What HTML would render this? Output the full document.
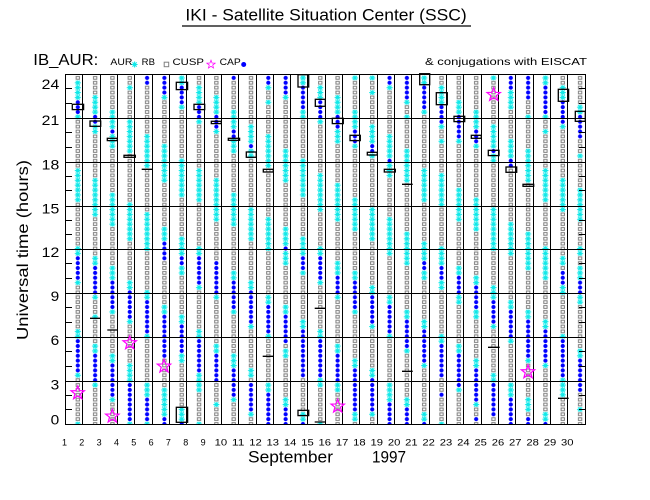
<!DOCTYPE html>
<html><head><meta charset="utf-8"><style>html,body{margin:0;padding:0;background:#fff;}svg{display:block;}</style></head>
<body>
<svg width="650" height="500" viewBox="0 0 650 500" xmlns="http://www.w3.org/2000/svg" font-family="'Liberation Sans', sans-serif">
<defs>
<pattern id="pg" patternUnits="userSpaceOnUse" x="69.14" y="421.5625" width="17.32" height="4.875">
<rect x="7.01" y="1.0875" width="3.3" height="2.7" fill="#fff" stroke="#808080" stroke-width="1"/>
</pattern>
<pattern id="pcy" patternUnits="userSpaceOnUse" x="69.14" y="421.5625" width="17.32" height="4.875">
<path d="M5.66 2.44H11.66M8.66 0V4.875M6.6 0.4L10.7 4.5M10.7 0.4L6.6 4.5" stroke="#10e8e8" stroke-width="1.1" fill="none"/>
</pattern>
<pattern id="pbl" patternUnits="userSpaceOnUse" x="69.14" y="421.5625" width="17.32" height="4.875">
<circle cx="8.66" cy="2.4375" r="2.1" fill="#0000ff"/>
</pattern>
<path id="pC" transform="translate(0,424) scale(1,-4.875) translate(0,-0.5)" d="M74.3 67h7V71h-7zM74.3 63h7V64h-7zM74.3 46h7V53h-7zM74.3 35h7V37h-7zM74.3 29h7V30h-7zM74.3 18h7V20h-7zM74.3 10h7V11h-7zM74.3 0h7V1h-7zM91.62 64h7V68h-7zM91.62 60h7V62h-7zM91.62 43h7V51h-7zM91.62 33h7V35h-7zM91.62 26h7V27h-7zM91.62 22h7V23h-7zM91.62 15h7V17h-7zM91.62 8h7V9h-7zM108.94 61h7V65h-7zM108.94 57h7V60h-7zM108.94 41h7V48h-7zM108.94 30h7V33h-7zM108.94 23h7V24h-7zM108.94 13h7V15h-7zM108.94 5h7V6h-7zM126.26 69h7V70h-7zM126.26 56h7V63h-7zM126.26 38h7V46h-7zM126.26 28h7V30h-7zM126.26 21h7V22h-7zM126.26 9h7V13h-7zM126.26 0h7V1h-7zM143.58 53h7V60h-7zM143.58 36h7V44h-7zM143.58 26h7V28h-7zM143.58 18h7V19h-7zM143.58 6h7V9h-7zM143.58 0h7V1h-7zM160.9 67h7V68h-7zM160.9 50h7V58h-7zM160.9 38h7V41h-7zM160.9 23h7V25h-7zM160.9 2h7V8h-7zM178.22 70h7V72h-7zM178.22 65h7V66h-7zM178.22 47h7V55h-7zM178.22 35h7V39h-7zM178.22 31h7V33h-7zM178.22 21h7V23h-7zM178.22 13h7V15h-7zM178.22 1h7V4h-7zM195.54 66h7V70h-7zM195.54 62h7V63h-7zM195.54 46h7V53h-7zM195.54 35h7V37h-7zM195.54 28h7V29h-7zM195.54 18h7V20h-7zM195.54 7h7V11h-7zM195.54 0h7V1h-7zM212.86 64h7V68h-7zM212.86 60h7V61h-7zM212.86 42h7V51h-7zM212.86 26h7V27h-7zM212.86 15h7V17h-7zM212.86 4h7V5h-7zM230.18 61h7V65h-7zM230.18 56h7V59h-7zM230.18 41h7V48h-7zM230.18 30h7V32h-7zM230.18 23h7V24h-7zM230.18 12h7V15h-7zM230.18 5h7V6h-7zM247.5 58h7V62h-7zM247.5 55h7V57h-7zM247.5 38h7V45h-7zM247.5 28h7V30h-7zM247.5 20h7V21h-7zM247.5 10h7V12h-7zM247.5 2h7V3h-7zM264.82 69h7V70h-7zM264.82 66h7V67h-7zM264.82 53h7V60h-7zM264.82 36h7V43h-7zM264.82 25h7V27h-7zM264.82 18h7V19h-7zM264.82 7h7V9h-7zM282.14 67h7V68h-7zM282.14 50h7V57h-7zM282.14 37h7V41h-7zM282.14 33h7V36h-7zM282.14 23h7V25h-7zM282.14 14h7V16h-7zM282.14 4h7V6h-7zM299.46 70h7V72h-7zM299.46 63h7V65h-7zM299.46 47h7V55h-7zM299.46 35h7V39h-7zM299.46 31h7V32h-7zM299.46 20h7V22h-7zM299.46 1h7V3h-7zM316.78 67h7V70h-7zM316.78 62h7V63h-7zM316.78 44h7V52h-7zM316.78 35h7V37h-7zM316.78 29h7V30h-7zM316.78 18h7V20h-7zM316.78 8h7V10h-7zM316.78 0h7V1h-7zM334.1 64h7V68h-7zM334.1 58h7V61h-7zM334.1 42h7V50h-7zM334.1 31h7V34h-7zM334.1 26h7V27h-7zM334.1 15h7V17h-7zM334.1 7h7V9h-7zM351.42 71h7V72h-7zM351.42 61h7V65h-7zM351.42 57h7V58h-7zM351.42 40h7V47h-7zM351.42 30h7V32h-7zM351.42 23h7V24h-7zM351.42 12h7V14h-7zM351.42 1h7V3h-7zM368.74 71h7V72h-7zM368.74 68h7V69h-7zM368.74 58h7V62h-7zM368.74 55h7V56h-7zM368.74 38h7V45h-7zM368.74 27h7V29h-7zM368.74 20h7V21h-7zM368.74 10h7V12h-7zM368.74 2h7V3h-7zM386.06 69h7V70h-7zM386.06 55h7V60h-7zM386.06 51h7V54h-7zM386.06 35h7V43h-7zM386.06 25h7V27h-7zM386.06 18h7V19h-7zM386.06 5h7V9h-7zM403.38 66h7V67h-7zM403.38 63h7V64h-7zM403.38 50h7V57h-7zM403.38 33h7V40h-7zM403.38 22h7V24h-7zM403.38 15h7V16h-7zM403.38 4h7V6h-7zM420.7 70h7V72h-7zM420.7 64h7V65h-7zM420.7 46h7V53h-7zM420.7 34h7V38h-7zM420.7 30h7V32h-7zM420.7 20h7V22h-7zM420.7 12h7V13h-7zM420.7 1h7V3h-7zM438.02 66h7V70h-7zM438.02 61h7V62h-7zM438.02 58h7V59h-7zM438.02 45h7V52h-7zM438.02 33h7V37h-7zM438.02 28h7V30h-7zM438.02 17h7V19h-7zM438.02 0h7V1h-7zM455.34 64h7V67h-7zM455.34 58h7V59h-7zM455.34 42h7V49h-7zM455.34 31h7V33h-7zM455.34 25h7V27h-7zM455.34 15h7V17h-7zM455.34 7h7V8h-7zM472.66 61h7V65h-7zM472.66 57h7V58h-7zM472.66 40h7V47h-7zM472.66 29h7V31h-7zM472.66 22h7V24h-7zM472.66 12h7V14h-7zM472.66 4h7V5h-7zM489.98 71h7V72h-7zM489.98 57h7V62h-7zM489.98 54h7V56h-7zM489.98 36h7V45h-7zM489.98 26h7V29h-7zM489.98 20h7V21h-7zM489.98 9h7V11h-7zM507.3 65h7V69h-7zM507.3 55h7V59h-7zM507.3 35h7V42h-7zM507.3 24h7V26h-7zM507.3 17h7V18h-7zM507.3 6h7V9h-7zM524.62 63h7V64h-7zM524.62 50h7V57h-7zM524.62 32h7V40h-7zM524.62 22h7V24h-7zM524.62 13h7V14h-7zM524.62 3h7V6h-7zM541.94 70h7V72h-7zM541.94 63h7V64h-7zM541.94 60h7V61h-7zM541.94 46h7V53h-7zM541.94 30h7V37h-7zM541.94 20h7V22h-7zM541.94 12h7V13h-7zM541.94 1h7V3h-7zM559.26 67h7V70h-7zM559.26 61h7V62h-7zM559.26 44h7V51h-7zM559.26 33h7V35h-7zM559.26 27h7V29h-7zM559.26 18h7V19h-7zM559.26 6h7V10h-7zM576.58 64h7V66h-7zM576.58 55h7V56h-7zM576.58 42h7V49h-7zM576.58 35h7V37h-7zM576.58 30h7V33h-7zM576.58 25h7V27h-7zM576.58 14h7V16h-7zM576.58 3h7V4h-7z"/>
<path id="pB" transform="translate(0,424) scale(1,-4.875) translate(0,-0.5)" d="M74.3 64h7V67h-7zM74.3 30h7V35h-7zM74.3 11h7V18h-7zM91.62 62h7V64h-7zM91.62 27h7V33h-7zM91.62 9h7V15h-7zM108.94 60h7V61h-7zM108.94 24h7V30h-7zM108.94 6h7V13h-7zM126.26 22h7V28h-7zM126.26 1h7V9h-7zM143.58 70h7V72h-7zM143.58 19h7V26h-7zM143.58 1h7V6h-7zM160.9 68h7V72h-7zM160.9 34h7V38h-7zM160.9 14h7V23h-7zM160.9 0h7V2h-7zM178.22 66h7V70h-7zM178.22 33h7V35h-7zM178.22 15h7V21h-7zM178.22 0h7V1h-7zM195.54 63h7V66h-7zM195.54 29h7V35h-7zM195.54 11h7V18h-7zM212.86 61h7V64h-7zM212.86 27h7V34h-7zM212.86 9h7V15h-7zM230.18 71h7V72h-7zM230.18 59h7V61h-7zM230.18 24h7V30h-7zM230.18 6h7V12h-7zM247.5 57h7V58h-7zM247.5 21h7V28h-7zM247.5 3h7V9h-7zM264.82 70h7V72h-7zM264.82 19h7V25h-7zM264.82 0h7V7h-7zM282.14 68h7V72h-7zM282.14 36h7V37h-7zM282.14 17h7V23h-7zM282.14 0h7V4h-7zM299.46 65h7V70h-7zM299.46 32h7V35h-7zM299.46 10h7V20h-7zM299.46 0h7V1h-7zM316.78 63h7V67h-7zM316.78 30h7V35h-7zM316.78 10h7V18h-7zM334.1 61h7V64h-7zM334.1 27h7V31h-7zM334.1 9h7V15h-7zM351.42 58h7V61h-7zM351.42 24h7V30h-7zM351.42 3h7V12h-7zM368.74 56h7V58h-7zM368.74 21h7V27h-7zM368.74 3h7V10h-7zM386.06 70h7V72h-7zM386.06 54h7V55h-7zM386.06 19h7V25h-7zM386.06 0h7V5h-7zM403.38 67h7V72h-7zM403.38 16h7V22h-7zM403.38 0h7V4h-7zM420.7 65h7V70h-7zM420.7 32h7V34h-7zM420.7 13h7V20h-7zM420.7 0h7V1h-7zM438.02 62h7V66h-7zM438.02 30h7V33h-7zM438.02 10h7V17h-7zM438.02 6h7V7h-7zM455.34 59h7V64h-7zM455.34 27h7V31h-7zM455.34 8h7V15h-7zM472.66 58h7V61h-7zM472.66 24h7V29h-7zM472.66 5h7V12h-7zM472.66 1h7V2h-7zM489.98 56h7V57h-7zM489.98 21h7V26h-7zM489.98 2h7V9h-7zM507.3 69h7V72h-7zM507.3 53h7V55h-7zM507.3 18h7V24h-7zM507.3 0h7V6h-7zM524.62 67h7V72h-7zM524.62 14h7V22h-7zM524.62 0h7V2h-7zM541.94 64h7V70h-7zM541.94 13h7V20h-7zM541.94 0h7V1h-7zM559.26 62h7V67h-7zM559.26 29h7V32h-7zM559.26 10h7V18h-7zM576.58 59h7V64h-7zM576.58 27h7V30h-7zM576.58 7h7V14h-7z"/>
<clipPath id="cc"><use href="#pC"/></clipPath>
<clipPath id="cb"><use href="#pB"/></clipPath>
<polygon id="st" points="0,-7 1.7,-2.35 6.66,-2.16 2.76,0.9 4.11,5.66 0,2.9 -4.11,5.66 -2.76,0.9 -6.66,-2.16 -1.7,-2.35" fill="none" stroke="#ff00ff" stroke-width="1.2"/>
</defs>

<rect width="650" height="500" fill="#fff"/>

<!-- Title -->
<text x="185.4" y="20.7" font-size="17" textLength="281.3" lengthAdjust="spacingAndGlyphs" fill="#000">IKI - Satellite Situation Center (SSC)</text>
<line x1="182" y1="26" x2="471" y2="26" stroke="#000" stroke-width="1.2"/>

<!-- Legend line -->
<text x="33.3" y="65" font-size="16" textLength="65" lengthAdjust="spacingAndGlyphs" fill="#000">IB_AUR:</text>
<text x="110.4" y="65" font-size="9" textLength="22" lengthAdjust="spacingAndGlyphs" fill="#000">AUR</text>
<path d="M131.6 64.5h6M134.6 61.5v6M132.5 62.4l4.2 4.2M136.7 62.4l-4.2 4.2" stroke="#10e8e8" stroke-width="1.1" fill="none"/>
<text x="141.7" y="65" font-size="9" textLength="13.3" lengthAdjust="spacingAndGlyphs" fill="#000">RB</text>
<rect x="164.2" y="62.2" width="4.5" height="4.5" fill="none" stroke="#808080" stroke-width="1"/>
<text x="172.5" y="65" font-size="9" textLength="31.5" lengthAdjust="spacingAndGlyphs" fill="#000">CUSP</text>
<use href="#st" transform="translate(211,64.5) scale(0.62)"/>
<text x="219.6" y="65" font-size="9" textLength="21.2" lengthAdjust="spacingAndGlyphs" fill="#000">CAP</text>
<circle cx="243.7" cy="64.5" r="2.5" fill="#0000ff"/>
<text x="425" y="65" font-size="10" textLength="162" lengthAdjust="spacingAndGlyphs" fill="#000">&amp; conjugations with EISCAT</text>

<!-- Markers -->
<rect x="66" y="75" width="519" height="349.5" fill="url(#pg)"/>
<use href="#pC" fill="#fff"/>
<use href="#pB" fill="#fff"/>
<rect x="66" y="75" width="519" height="349.5" fill="url(#pcy)" clip-path="url(#cc)"/>
<rect x="66" y="75" width="519" height="349.5" fill="url(#pbl)" clip-path="url(#cb)"/>

<!-- Grid -->
<g stroke="#000" stroke-width="1" fill="none">
<path d="M65.5 118.5H585.5M65.5 162.5H585.5M65.5 206.5H585.5M65.5 249.5H585.5M65.5 293.5H585.5M65.5 337.5H585.5M65.5 381.5H585.5"/>
<path d="M82.5 74.5V424.5M100.5 74.5V424.5M117.5 74.5V424.5M134.5 74.5V424.5M152.5 74.5V424.5M169.5 74.5V424.5M186.5 74.5V424.5M204.5 74.5V424.5M221.5 74.5V424.5M238.5 74.5V424.5M256.5 74.5V424.5M273.5 74.5V424.5M290.5 74.5V424.5M307.5 74.5V424.5M325.5 74.5V424.5M342.5 74.5V424.5M359.5 74.5V424.5M377.5 74.5V424.5M394.5 74.5V424.5M411.5 74.5V424.5M429.5 74.5V424.5M446.5 74.5V424.5M463.5 74.5V424.5M481.5 74.5V424.5M498.5 74.5V424.5M515.5 74.5V424.5M533.5 74.5V424.5M550.5 74.5V424.5M567.5 74.5V424.5"/>
<path d="M65 409.5h7M65 395.5h7M65 366.5h7M65 351.5h7M65 322.5h7M65 307.5h7M65 278.5h7M65 263.5h7M65 234.5h7M65 220.5h7M65 190.5h7M65 176.5h7M65 147.5h7M65 132.5h7M65 103.5h7M65 88.5h7"/>
<path d="M579 409.5h6.5M579 395.5h6.5M579 366.5h6.5M579 351.5h6.5M579 322.5h6.5M579 307.5h6.5M579 278.5h6.5M579 263.5h6.5M579 234.5h6.5M579 220.5h6.5M579 190.5h6.5M579 176.5h6.5M579 147.5h6.5M579 132.5h6.5M579 103.5h6.5M579 88.5h6.5"/>
<rect x="65.5" y="74.5" width="520" height="350"/>
</g>

<!-- Conjunction boxes and bars -->
<g stroke="#000" stroke-width="1.3" fill="none">
<rect x="72.3" y="104.3" width="11.3" height="5.3"/>
<rect x="90" y="121" width="10.7" height="5.3"/>
<rect x="107.3" y="138.3" width="10" height="2.3"/>
<rect x="124" y="155.3" width="11.3" height="2"/>
<rect x="176.3" y="82.3" width="11.3" height="7.3"/>
<rect x="194" y="104.3" width="10.7" height="5.3"/>
<rect x="211.3" y="121.3" width="10" height="2.3"/>
<rect x="228.3" y="138.3" width="11.3" height="2"/>
<rect x="176.3" y="407.3" width="11.3" height="15"/>
<rect x="246.3" y="152" width="10" height="5.3"/>
<rect x="263.3" y="169.3" width="10" height="2.7"/>
<rect x="298" y="74.7" width="10.7" height="12.3"/>
<rect x="298" y="410.3" width="10.7" height="5.3"/>
<rect x="315.3" y="99.3" width="10" height="7"/>
<rect x="332.3" y="118.3" width="11" height="5.3"/>
<rect x="350" y="135.3" width="10.3" height="5.3"/>
<rect x="367.3" y="152.3" width="10" height="2.7"/>
<rect x="384.3" y="169.3" width="11" height="2.7"/>
<rect x="419.7" y="73.7" width="10" height="11"/>
<rect x="436.3" y="92.7" width="11" height="12"/>
<rect x="454" y="116.3" width="10.7" height="5.3"/>
<rect x="471.3" y="135.3" width="10" height="3"/>
<rect x="488.3" y="150.3" width="10.7" height="5.3"/>
<rect x="506" y="167" width="10.7" height="5.3"/>
<rect x="523" y="184.3" width="10.7" height="2"/>
<rect x="558.3" y="89.3" width="10.3" height="12"/>
<rect x="575.3" y="111.3" width="10" height="10"/>
<path d="M141.7 169.3H153M90 318.3H100.7M107.3 330H117.3M262.7 356.3H273.3M314.7 308.3H325.3M314.7 422H325.3M402 184.3H412.7M402 371.3H412.7M488 347.3H499.7M558 398.3H568.7"/>
</g>

<!-- Stars -->
<use href="#st" x="77.7" y="393"/>
<use href="#st" x="112.3" y="416.3"/>
<use href="#st" x="129.7" y="343"/>
<use href="#st" x="164" y="366.3"/>
<use href="#st" x="337.7" y="406.3"/>
<use href="#st" x="493.7" y="94.7"/>
<use href="#st" x="528" y="372"/>

<!-- Y tick labels -->
<g font-size="13.5" text-anchor="end" fill="#000">
<text x="59.3" y="89" textLength="17.6" lengthAdjust="spacingAndGlyphs">24</text>
<text x="59.3" y="125" textLength="17.6" lengthAdjust="spacingAndGlyphs">21</text>
<text x="59.3" y="169.5" textLength="17.6" lengthAdjust="spacingAndGlyphs">18</text>
<text x="59.3" y="213.3" textLength="17.6" lengthAdjust="spacingAndGlyphs">15</text>
<text x="59.3" y="257" textLength="17.6" lengthAdjust="spacingAndGlyphs">12</text>
<text x="59.3" y="301" textLength="8.6" lengthAdjust="spacingAndGlyphs">9</text>
<text x="59.3" y="345" textLength="8.6" lengthAdjust="spacingAndGlyphs">6</text>
<text x="59.3" y="389.3" textLength="8.6" lengthAdjust="spacingAndGlyphs">3</text>
<text x="59.3" y="424.3" textLength="8.6" lengthAdjust="spacingAndGlyphs">0</text>
</g>

<!-- Y axis title -->
<text transform="translate(28,250) rotate(-90)" text-anchor="middle" font-size="16" textLength="180" lengthAdjust="spacingAndGlyphs" fill="#000">Universal time (hours)</text>

<!-- X tick labels -->
<g font-size="9" text-anchor="middle" fill="#000">
<text x="64.5" y="445.3">1</text>
<text x="81.8" y="445.3">2</text>
<text x="99.1" y="445.3">3</text>
<text x="116.5" y="445.3">4</text>
<text x="133.8" y="445.3">5</text>
<text x="151.1" y="445.3">6</text>
<text x="168.4" y="445.3">7</text>
<text x="185.7" y="445.3">8</text>
<text x="203.1" y="445.3">9</text>
<text x="220.9" y="445.3" textLength="12.5" lengthAdjust="spacingAndGlyphs">10</text>
<text x="238.2" y="445.3" textLength="12.5" lengthAdjust="spacingAndGlyphs">11</text>
<text x="255.5" y="445.3" textLength="12.5" lengthAdjust="spacingAndGlyphs">12</text>
<text x="272.8" y="445.3" textLength="12.5" lengthAdjust="spacingAndGlyphs">13</text>
<text x="290.2" y="445.3" textLength="12.5" lengthAdjust="spacingAndGlyphs">14</text>
<text x="307.5" y="445.3" textLength="12.5" lengthAdjust="spacingAndGlyphs">15</text>
<text x="324.8" y="445.3" textLength="12.5" lengthAdjust="spacingAndGlyphs">16</text>
<text x="342.1" y="445.3" textLength="12.5" lengthAdjust="spacingAndGlyphs">17</text>
<text x="359.4" y="445.3" textLength="12.5" lengthAdjust="spacingAndGlyphs">18</text>
<text x="376.8" y="445.3" textLength="12.5" lengthAdjust="spacingAndGlyphs">19</text>
<text x="394.1" y="445.3" textLength="12.5" lengthAdjust="spacingAndGlyphs">20</text>
<text x="411.4" y="445.3" textLength="12.5" lengthAdjust="spacingAndGlyphs">21</text>
<text x="428.7" y="445.3" textLength="12.5" lengthAdjust="spacingAndGlyphs">22</text>
<text x="446" y="445.3" textLength="12.5" lengthAdjust="spacingAndGlyphs">23</text>
<text x="463.4" y="445.3" textLength="12.5" lengthAdjust="spacingAndGlyphs">24</text>
<text x="480.7" y="445.3" textLength="12.5" lengthAdjust="spacingAndGlyphs">25</text>
<text x="498" y="445.3" textLength="12.5" lengthAdjust="spacingAndGlyphs">26</text>
<text x="515.3" y="445.3" textLength="12.5" lengthAdjust="spacingAndGlyphs">27</text>
<text x="532.6" y="445.3" textLength="12.5" lengthAdjust="spacingAndGlyphs">28</text>
<text x="550" y="445.3" textLength="12.5" lengthAdjust="spacingAndGlyphs">29</text>
<text x="567.3" y="445.3" textLength="12.5" lengthAdjust="spacingAndGlyphs">30</text>
</g>

<!-- X axis title -->
<text x="248" y="462.5" font-size="17" textLength="85" lengthAdjust="spacingAndGlyphs" fill="#000">September</text>
<text x="372" y="462.5" font-size="17" textLength="34" lengthAdjust="spacingAndGlyphs" fill="#000">1997</text>
</svg>
</body></html>
